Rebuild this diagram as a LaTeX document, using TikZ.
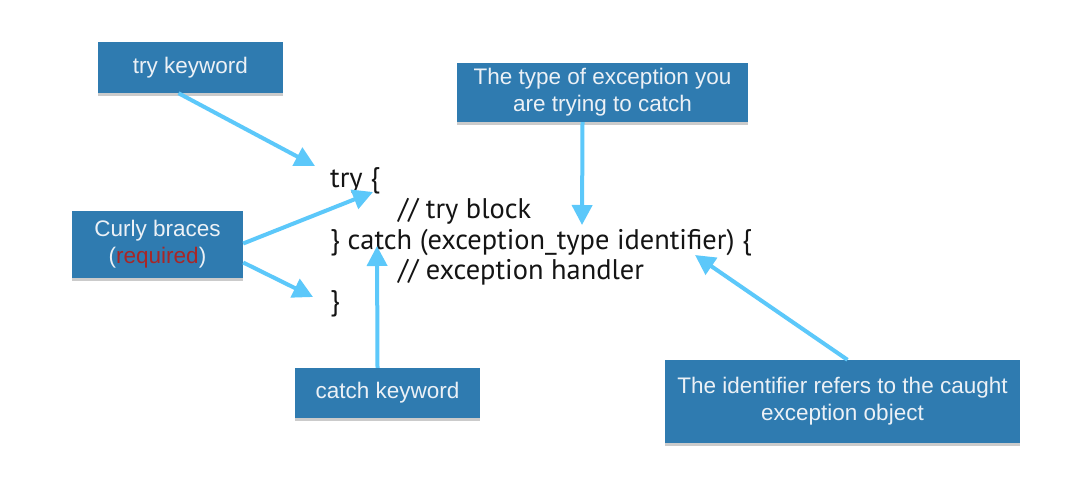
\documentclass[tikz,border=0pt]{standalone}
\usepackage{fontspec}
\newfontfamily\boxfont{Liberation Sans}
\newfontfamily\codefont{PT Sans}
\usetikzlibrary{arrows.meta,shadows}
\definecolor{boxblue}{RGB}{47,123,176}
\definecolor{arrowblue}{RGB}{92,200,250}
\definecolor{boxtext}{RGB}{236,241,246}
\definecolor{reqred}{RGB}{168,38,38}
\tikzset{
  infobox/.style={fill=boxblue, draw=none, inner sep=0pt, align=center,
    text=boxtext, font=\boxfont\fontsize{22.5}{27}\selectfont,
    drop shadow={shadow xshift=0pt, shadow yshift=-3pt, fill=black!40, opacity=0.5}},
  codeline/.style={anchor=base west, inner sep=0pt, text=black!92,
    font=\codefont\fontsize{28.4}{31}\selectfont},
  arr/.style={draw=arrowblue, line width=4pt, -{Triangle[length=20pt,width=20pt]}}
}
\begin{document}
\begin{tikzpicture}[x=1pt,y=-1pt]
\useasboundingbox[fill=white] (0,0) rectangle (1067,477);
% boxes
\node[infobox, minimum width=185, minimum height=51] (tk) at (190.5,67.5) {try keyword};
\node[infobox, minimum width=171, minimum height=67] (cb) at (157.5,244.5) {Curly braces\\(\textcolor{reqred}{required})};
\node[infobox, minimum width=185, minimum height=50] (ck) at (387.5,393) {catch keyword};
\node[infobox, minimum width=291, minimum height=59] (ty) at (602.5,92.5) {The type of exception you\\are trying to catch};
\node[infobox, minimum width=355, minimum height=83] (id) at (842.5,401.5) {The identifier refers to the caught\\exception object};
% code
\node[codeline] (l1) at (330,187) {try \{};
\node[codeline] (l2) at (398,218) {// try block};
\node[codeline] (l3) at (330,249) {\} catch (exception\_type identifier) \{};
\node[codeline] (l4) at (398,279) {// exception handler};
\node[codeline] (l5) at (330,310) {\}};
% arrow tips
\coordinate (tA) at (315,166);
\coordinate (tB) at (373,192);
\coordinate (tC) at (313,297);
\coordinate (tD) at (377,246);
\coordinate (tE) at (582,225);
\coordinate (tF) at (695,255);
% connectors
\draw[arr] ([xshift=-12pt]tk.south) -- (tA);
\draw[arr] ([yshift=1pt]cb.east) -- (tB);
\draw[arr] ([yshift=-18pt]cb.east) -- (tC);
\draw[arr] ([xshift=-10pt]ck.north) -- (tD);
\draw[arr] ([xshift=-20pt]ty.south) -- (tE);
\draw[arr] ([xshift=5pt]id.north) -- (tF);
\end{tikzpicture}
\end{document}
